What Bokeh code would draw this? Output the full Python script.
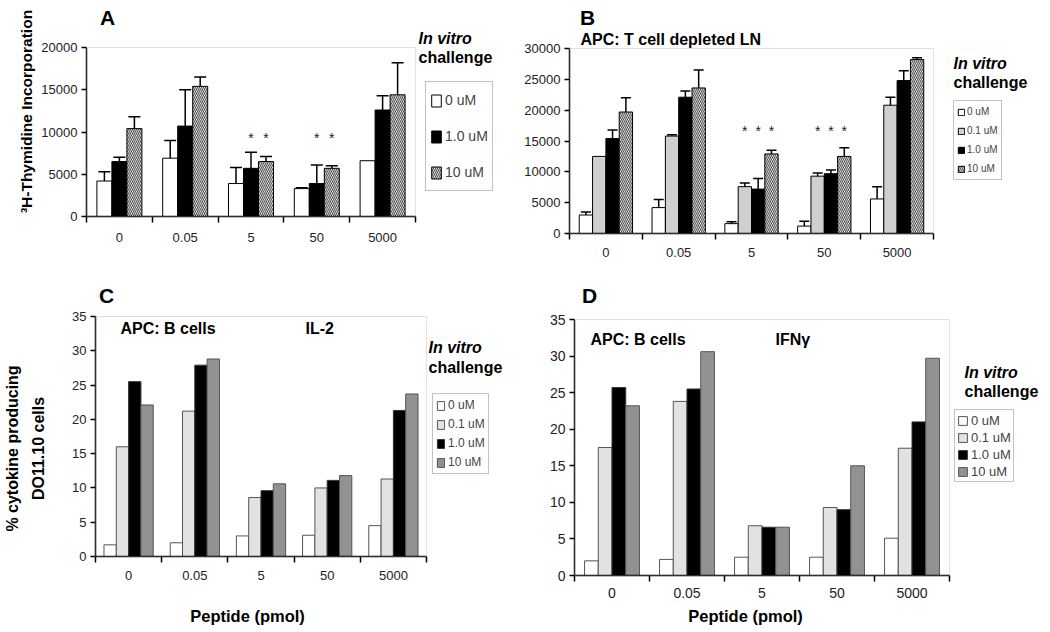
from math import pi
from bokeh.plotting import figure
from bokeh.models import (Range1d, FixedTicker, Whisker, TeeHead, ColumnDataSource,
                          Label, Legend, LegendItem, BoxAnnotation)
from bokeh.layouts import column, row
from bokeh.embed import file_html
from bokeh.resources import INLINE
from bokeh.core.properties import value

# ---------------- data ----------------
peptide = ["0", "0.05", "5", "50", "5000"]

# Panel A: 3H-thymidine incorporation
a_series = ["0 uM", "1.0 uM", "10 uM"]
a_0uM = [4200, 6900, 3900, 3300, 6600]
a_1uM = [6500, 10700, 5700, 3900, 12600]
a_10uM = [10400, 15400, 6500, 5700, 14400]
a_err_0uM = [(3100, 5300), (4800, 9000), (2000, 5800), (3200, 3400), None]
a_err_1uM = [(5900, 7000), (6400, 15000), (3800, 7600), (1700, 6100), (10900, 14300)]
a_err_10uM = [(9000, 11800), (14200, 16500), (6000, 7100), (5500, 6000), (10700, 18200)]
a_yticks = [0, 5000, 10000, 15000, 20000]
a_star_peptide = ["5", "5", "50", "50"]
a_star_series = [1, 2, 1, 2]
a_star_y = [9300, 9300, 9300, 9300]

# Panel B: APC T cell depleted LN
b_series = ["0 uM", "0.1 uM", "1.0 uM", "10 uM"]
b_0uM = [3000, 4200, 1600, 1200, 5600]
b_01uM = [12500, 15800, 7600, 9300, 20800]
b_1uM = [15400, 22100, 7200, 9700, 24800]
b_10uM = [19700, 23600, 12900, 12500, 28200]
b_err_0uM = [(2500, 3500), (3000, 5500), (1300, 1900), (500, 2000), (3600, 7600)]
b_err_01uM = [None, (15600, 16000), (6900, 8200), (8800, 9800), (19600, 22100)]
b_err_1uM = [(14000, 16800), (21200, 23100), (5500, 8900), (9100, 10300), (23200, 26400)]
b_err_10uM = [(17200, 22000), (20700, 26500), (12400, 13500), (11300, 13900), (27900, 28500)]
b_yticks = [0, 5000, 10000, 15000, 20000, 25000, 30000]
b_star_peptide = ["5", "5", "5", "50", "50", "50"]
b_star_series = [1, 2, 3, 1, 2, 3]
b_star_y = [16700, 16700, 16700, 16700, 16700, 16700]

# Panel C: IL-2
c_series = ["0 uM", "0.1 uM", "1.0 uM", "10 uM"]
c_0uM = [1.7, 2.0, 3.0, 3.1, 4.5]
c_01uM = [16.0, 21.2, 8.6, 10.0, 11.3]
c_1uM = [25.5, 27.9, 9.6, 11.1, 21.3]
c_10uM = [22.1, 28.8, 10.6, 11.8, 23.7]

# Panel D: IFN-gamma
d_series = ["0 uM", "0.1 uM", "1.0 uM", "10 uM"]
d_0uM = [2.0, 2.2, 2.5, 2.5, 5.1]
d_01uM = [17.5, 23.8, 6.8, 9.3, 17.4]
d_1uM = [25.7, 25.5, 6.6, 9.0, 21.0]
d_10uM = [23.2, 30.6, 6.6, 15.0, 29.7]
cd_yticks = [0, 5, 10, 15, 20, 25, 30, 35]

FONT = "Liberation Sans"

centers = [i + 0.5 for i in range(len(peptide))]
bounds = [float(i) for i in range(len(peptide) + 1)]
NCAT = len(peptide)


class Panel:
    """A figure whose frame fills the whole canvas; the plot rectangle is placed via ranges."""

    def __init__(self, x0, y0, w, h, rect, ymax, yticks, tick_font_size, xlab_standoff):
        self.x0, self.y0, self.w, self.h = x0, y0, w, h
        L, T, R, B = rect
        kx = NCAT / (R - L)
        ky = ymax / (B - T)
        xr = Range1d(-(L - x0) * kx, NCAT + (x0 + w - R) * kx)
        yr = Range1d(-(y0 + h - B) * ky, ymax + (T - y0) * ky)
        p = figure(width=w, height=h, x_range=xr, y_range=yr, output_backend="svg",
                   toolbar_location=None, min_border=0, min_border_left=0,
                   min_border_right=0, min_border_top=0, min_border_bottom=0)
        p.title.visible = False
        p.xgrid.visible = False
        p.ygrid.visible = False
        p.outline_line_color = None
        p.background_fill_color = "white"
        p.border_fill_color = "white"
        # plot-area border (Excel style)
        p.add_layout(BoxAnnotation(left=0, right=NCAT, bottom=0, top=ymax, fill_alpha=0,
                                   line_color="#9a9a9a", line_width=1))
        xa = p.xaxis[0]
        xa.fixed_location = 0
        xa.bounds = (0, NCAT)
        xa.ticker = FixedTicker(ticks=centers, minor_ticks=bounds)
        xa.major_label_overrides = {c: lab for c, lab in zip(centers, peptide)}
        xa.major_tick_line_color = None
        xa.minor_tick_line_color = "black"
        xa.minor_tick_out = 6
        xa.minor_tick_in = 0
        xa.minor_tick_line_width = 1.5
        xa.axis_line_width = 1.5
        xa.axis_line_color = "black"
        xa.major_label_text_font = FONT
        xa.major_label_text_font_size = tick_font_size
        xa.major_label_text_color = "#222222"
        xa.major_label_standoff = xlab_standoff
        ya = p.yaxis[0]
        ya.fixed_location = 0
        ya.bounds = (0, ymax)
        ya.ticker = FixedTicker(ticks=yticks)
        ya.minor_tick_line_color = None
        ya.major_tick_out = 5
        ya.major_tick_in = 0
        ya.major_tick_line_width = 1.5
        ya.axis_line_width = 1.5
        ya.axis_line_color = "black"
        ya.major_label_text_font = FONT
        ya.major_label_text_font_size = tick_font_size
        ya.major_label_text_color = "#222222"
        ya.major_label_standoff = 4
        self.p = p

    def sx(self, px):
        return px - self.x0

    def sy(self, py):
        return self.y0 + self.h - py

    def bars(self, series_vals, styles, width):
        n = len(series_vals)
        offs = [(k - (n - 1) / 2) * width for k in range(n)]
        rends = []
        for vals, st, off in zip(series_vals, styles, offs):
            src = ColumnDataSource(dict(x=[c + off for c in centers], top=vals))
            rends.append(self.p.vbar(x="x", top="top", width=width, source=src, **st))
        self.offs = offs
        return rends

    def errors(self, errs, head):
        for err, off in zip(errs, self.offs):
            xs, lo, hi = [], [], []
            for c, e in zip(centers, err):
                if e is not None:
                    xs.append(c + off)
                    lo.append(e[0])
                    hi.append(e[1])
            src = ColumnDataSource(dict(x=xs, lo=lo, hi=hi))
            self.p.add_layout(Whisker(
                source=src, base="x", lower="lo", upper="hi", dimension="height",
                line_color="black", line_width=1.5,
                upper_head=TeeHead(size=head, line_width=1.5, line_color="black"),
                lower_head=TeeHead(size=head, line_width=1.5, line_color="black")))

    def stars(self, peps, sers, ys):
        xs = [centers[peptide.index(g)] + self.offs[s] for g, s in zip(peps, sers)]
        self.p.text(x=xs, y=ys, text=["*"] * len(xs), text_align="center",
                    text_baseline="middle", text_font=value(FONT), text_font_size="14px",
                    text_color="#222222")

    def label(self, text, px, py, size, style="bold", align="left", angle=0.0):
        self.p.add_layout(Label(x=self.sx(px), y=self.sy(py), x_units="screen", y_units="screen",
                                text=text, text_font=FONT, text_font_size=size,
                                text_font_style=style, text_align=align, text_baseline="middle",
                                angle=angle, text_color="black"))

    def legend(self, rends, labels, px, py, size, gw, gh, lh, sp, pad, so):
        leg = Legend(items=[LegendItem(label=l, renderers=[r]) for l, r in zip(labels, rends)],
                     location=(self.sx(px), self.sy(py)), orientation="vertical", margin=0,
                     padding=pad, spacing=sp, glyph_width=gw, glyph_height=gh,
                     label_height=lh, label_standoff=so, label_text_font=FONT,
                     label_text_font_size=size, border_line_color="#888888",
                     border_line_width=1, background_fill_color="white",
                     background_fill_alpha=1.0)
        self.p.add_layout(leg)


WHITE = dict(fill_color="white", line_color="black", line_width=1)
BLACK = dict(fill_color="black", line_color="black", line_width=1)
HATCH = dict(fill_color="white", line_color="black", line_width=1, hatch_pattern="\\",
             hatch_color="#555555", hatch_scale=4, hatch_weight=1.2)
STIPPLE = dict(fill_color="#cfcfcf", line_color="black", line_width=1)

WHITE2 = dict(fill_color="white", line_color="#555555", line_width=1)
LGRAY2 = dict(fill_color="#e2e2e2", line_color="#555555", line_width=1)
BLACK2 = dict(fill_color="black", line_color="#333333", line_width=1)
DGRAY2 = dict(fill_color="#929292", line_color="#555555", line_width=1)

TOP_H = 270
BOT_H = 360
LEFT_W = 520
RIGHT_W = 528

# ---------------- Panel A ----------------
A = Panel(0, 0, LEFT_W, TOP_H, (86, 47, 415, 216), 20000, a_yticks, "13px", 10)
rA = A.bars([a_0uM, a_1uM, a_10uM], [WHITE, BLACK, HATCH], 0.228)
A.errors([a_err_0uM, a_err_1uM, a_err_10uM], 12)
A.stars(a_star_peptide, a_star_series, a_star_y)
A.legend(rA, a_series, 425, 191, "14px", 12, 15, 28, 8, 4, 3)
A.label("A", 107, 17, "21px", align="center")
A.label("In vitro", 418, 38, "16px", style="bold italic")
A.label("challenge", 418, 57, "16px")
A.label("\u00b3H-Thymidine Incorporation", 26, 111, "15.5px", align="center", angle=pi / 2)

# ---------------- Panel B ----------------
B = Panel(LEFT_W, 0, RIGHT_W, TOP_H, (569, 48, 933, 233), 30000, b_yticks, "13px", 8)
rB = B.bars([b_0uM, b_01uM, b_1uM, b_10uM], [WHITE, STIPPLE, BLACK, HATCH], 0.183)
B.errors([b_err_0uM, b_err_01uM, b_err_1uM, b_err_10uM], 10)
B.stars(b_star_peptide, b_star_series, b_star_y)
B.legend(rB, b_series, 953, 180, "10px", 8, 8, 15, 4, 3, 2)
B.label("B", 587, 17, "21px", align="center")
B.label("APC: T cell depleted LN", 580, 39, "16px")
B.label("In vitro", 953, 63, "16px", style="bold italic")
B.label("challenge", 953, 82, "16px")

# ---------------- Panel C ----------------
C = Panel(0, TOP_H, LEFT_W, BOT_H, (95, 316, 426, 556), 35, cd_yticks, "13px", 8)
rC = C.bars([c_0uM, c_01uM, c_1uM, c_10uM], [WHITE2, LGRAY2, BLACK2, DGRAY2], 0.186)
C.legend(rC, c_series, 432, 474, "12px", 9, 11, 16, 3, 3, 3)
C.label("C", 106, 295, "21px", align="center")
C.label("APC: B cells", 120, 328, "16px")
C.label("IL-2", 305, 328, "16px")
C.label("In vitro", 428, 347, "16px", style="bold italic")
C.label("challenge", 428, 367, "16px")
C.label("% cytokine producing", 12, 448, "16px", align="center", angle=pi / 2)
C.label("DO11.10 cells", 38, 448, "16px", align="center", angle=pi / 2)
C.label("Peptide (pmol)", 247, 615, "16.5px", align="center")

# ---------------- Panel D ----------------
D = Panel(LEFT_W, TOP_H, RIGHT_W, BOT_H, (574, 319, 949, 575), 35, cd_yticks, "14px", 6)
rD = D.bars([d_0uM, d_01uM, d_1uM, d_10uM], [WHITE2, LGRAY2, BLACK2, DGRAY2], 0.183)
D.legend(rD, d_series, 954, 482, "13px", 11, 11, 16, 1, 2, 3)
D.label("D", 589, 295, "21px", align="center")
D.label("APC: B cells", 590, 339, "16px")
D.label("IFN\u03b3", 775, 339, "16px")
D.label("In vitro", 964, 372, "16px", style="bold italic")
D.label("challenge", 964, 391, "16px")
D.label("Peptide (pmol)", 745, 615, "16.5px", align="center")

layout = column(row(A.p, B.p), row(C.p, D.p))
open("out.html", "w").write(file_html(layout, INLINE))
